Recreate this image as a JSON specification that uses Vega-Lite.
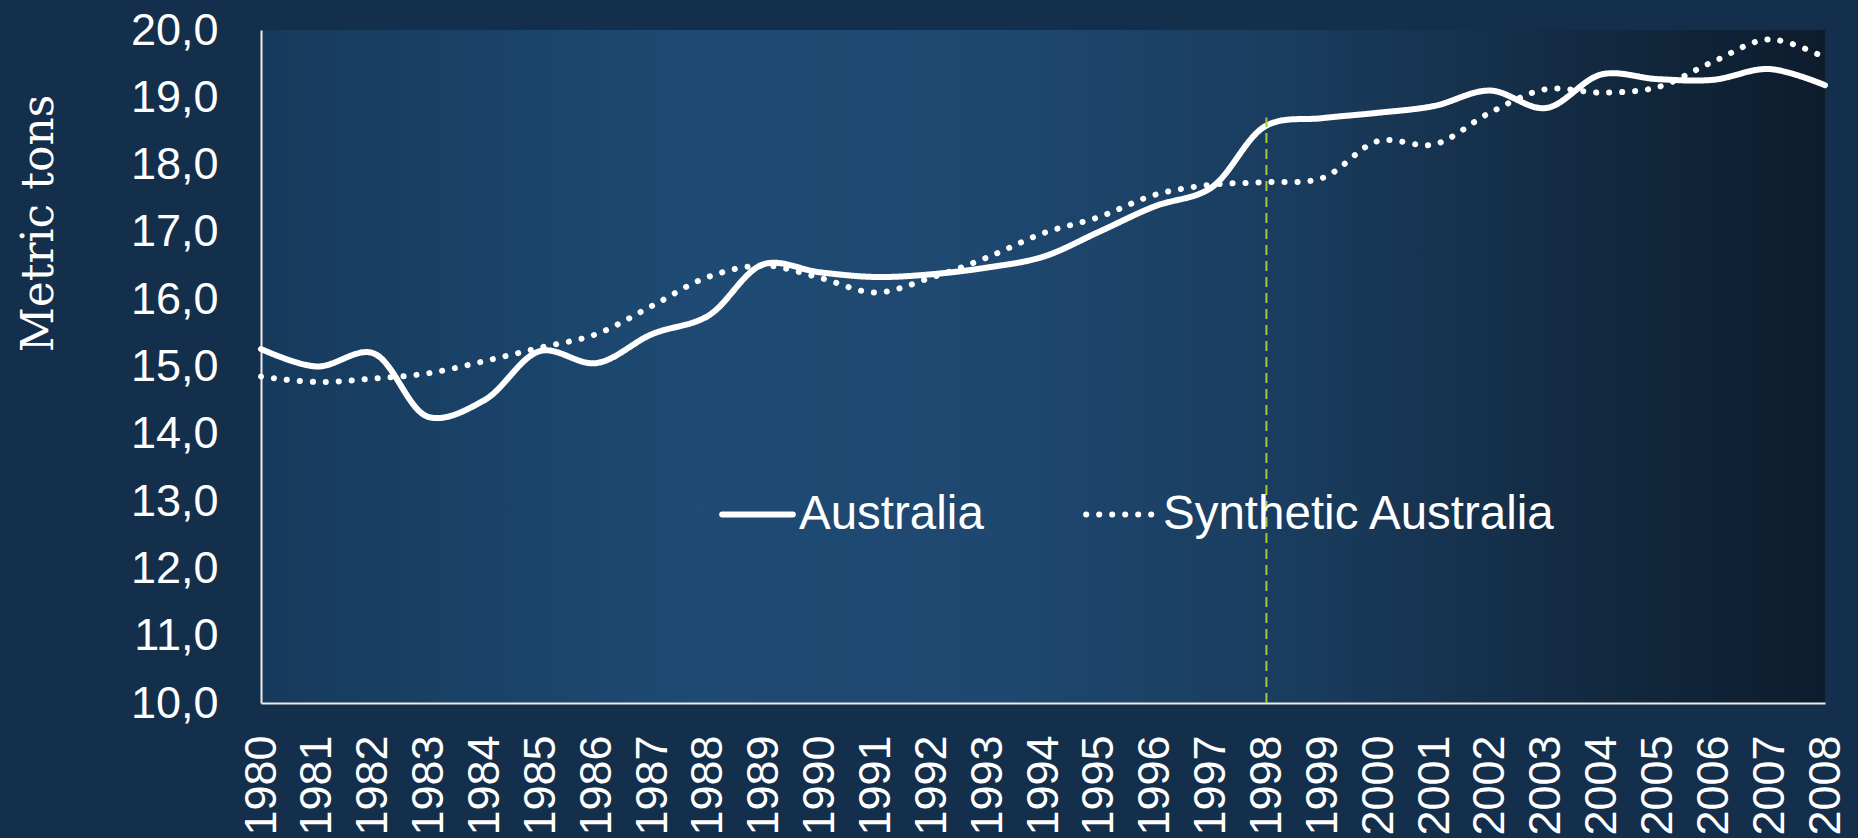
{
  "$schema": "https://vega.github.io/schema/vega-lite/v6.json",
  "width": 1564,
  "height": 673,
  "autosize": {"type": "none"},
  "padding": {"left": 261, "top": 30, "right": 33, "bottom": 135},
  "background": "#142f4b",
  "config": {
    "view": {
      "stroke": null,
      "fill": {
        "gradient": "linear", "x1": 0, "y1": 0, "x2": 1, "y2": 0,
        "stops": [
          {"offset": 0, "color": "#163a5c"},
          {"offset": 0.28, "color": "#1e4a73"},
          {"offset": 0.47, "color": "#1e4870"},
          {"offset": 0.66, "color": "#1a3c5e"},
          {"offset": 0.86, "color": "#12293f"},
          {"offset": 1, "color": "#0d1c2d"}
        ]
      }
    },
    "axis": {
      "grid": false,
      "ticks": false,
      "domainColor": "#ececec",
      "domainWidth": 2,
      "labelFont": "Liberation Sans",
      "labelFontSize": 45,
      "labelColor": "#ffffff",
      "titleColor": "#ffffff"
    }
  },
  "datasets": {
    "series": [
      {"year": 1980, "series": "Australia", "value": 15.26},
      {"year": 1981, "series": "Australia", "value": 15.0},
      {"year": 1982, "series": "Australia", "value": 15.2},
      {"year": 1983, "series": "Australia", "value": 14.25},
      {"year": 1984, "series": "Australia", "value": 14.5},
      {"year": 1985, "series": "Australia", "value": 15.23},
      {"year": 1986, "series": "Australia", "value": 15.05},
      {"year": 1987, "series": "Australia", "value": 15.48},
      {"year": 1988, "series": "Australia", "value": 15.75},
      {"year": 1989, "series": "Australia", "value": 16.52},
      {"year": 1990, "series": "Australia", "value": 16.4},
      {"year": 1991, "series": "Australia", "value": 16.33},
      {"year": 1992, "series": "Australia", "value": 16.37},
      {"year": 1993, "series": "Australia", "value": 16.47},
      {"year": 1994, "series": "Australia", "value": 16.63},
      {"year": 1995, "series": "Australia", "value": 17.0},
      {"year": 1996, "series": "Australia", "value": 17.38},
      {"year": 1997, "series": "Australia", "value": 17.65},
      {"year": 1998, "series": "Australia", "value": 18.58},
      {"year": 1999, "series": "Australia", "value": 18.69},
      {"year": 2000, "series": "Australia", "value": 18.77},
      {"year": 2001, "series": "Australia", "value": 18.87},
      {"year": 2002, "series": "Australia", "value": 19.1},
      {"year": 2003, "series": "Australia", "value": 18.84},
      {"year": 2004, "series": "Australia", "value": 19.34},
      {"year": 2005, "series": "Australia", "value": 19.27},
      {"year": 2006, "series": "Australia", "value": 19.26},
      {"year": 2007, "series": "Australia", "value": 19.42},
      {"year": 2008, "series": "Australia", "value": 19.18},
      {"year": 1980, "series": "Synthetic Australia", "value": 14.85},
      {"year": 1981, "series": "Synthetic Australia", "value": 14.77},
      {"year": 1982, "series": "Synthetic Australia", "value": 14.82},
      {"year": 1983, "series": "Synthetic Australia", "value": 14.9},
      {"year": 1984, "series": "Synthetic Australia", "value": 15.08},
      {"year": 1985, "series": "Synthetic Australia", "value": 15.28},
      {"year": 1986, "series": "Synthetic Australia", "value": 15.48},
      {"year": 1987, "series": "Synthetic Australia", "value": 15.9},
      {"year": 1988, "series": "Synthetic Australia", "value": 16.33},
      {"year": 1989, "series": "Synthetic Australia", "value": 16.5},
      {"year": 1990, "series": "Synthetic Australia", "value": 16.32},
      {"year": 1991, "series": "Synthetic Australia", "value": 16.1},
      {"year": 1992, "series": "Synthetic Australia", "value": 16.32},
      {"year": 1993, "series": "Synthetic Australia", "value": 16.62},
      {"year": 1994, "series": "Synthetic Australia", "value": 16.98},
      {"year": 1995, "series": "Synthetic Australia", "value": 17.22},
      {"year": 1996, "series": "Synthetic Australia", "value": 17.55},
      {"year": 1997, "series": "Synthetic Australia", "value": 17.7},
      {"year": 1998, "series": "Synthetic Australia", "value": 17.74},
      {"year": 1999, "series": "Synthetic Australia", "value": 17.8},
      {"year": 2000, "series": "Synthetic Australia", "value": 18.35},
      {"year": 2001, "series": "Synthetic Australia", "value": 18.3},
      {"year": 2002, "series": "Synthetic Australia", "value": 18.77},
      {"year": 2003, "series": "Synthetic Australia", "value": 19.12},
      {"year": 2004, "series": "Synthetic Australia", "value": 19.07},
      {"year": 2005, "series": "Synthetic Australia", "value": 19.15},
      {"year": 2006, "series": "Synthetic Australia", "value": 19.53},
      {"year": 2007, "series": "Synthetic Australia", "value": 19.86},
      {"year": 2008, "series": "Synthetic Australia", "value": 19.59}
    ],
    "marker": [
      {"year": 1998, "lo": 10, "hi": 18.7}
    ]
  },
  "layer": [
    {
      "data": {"name": "series"},
      "mark": {"type": "line", "color": "#ffffff", "strokeWidth": 6, "strokeCap": "round", "interpolate": "catmull-rom"},
      "encoding": {
        "x": {
          "field": "year", "type": "ordinal",
          "scale": {"type": "point", "padding": 0},
          "axis": {"title": null, "labelAngle": -90, "labelPadding": 32}
        },
        "y": {
          "field": "value", "type": "quantitative",
          "scale": {"domain": [10, 20]},
          "title": "Metric tons",
          "axis": {
            "values": [10, 11, 12, 13, 14, 15, 16, 17, 18, 19, 20],
            "labelExpr": "replace(format(datum.value, '.1f'), '.', ',')",
            "labelPadding": 43,
            "titleFont": "DejaVu Serif",
            "titleFontSize": 44,
            "titleFontWeight": "normal",
            "titleAngle": -90,
            "titleAlign": "center",
            "titleBaseline": "alphabetic",
            "titleX": -209,
            "titleY": 193
          }
        },
        "strokeDash": {
          "field": "series", "type": "nominal",
          "scale": {"domain": ["Australia", "Synthetic Australia"], "range": [[1, 0], [0.1, 12.9]]},
          "legend": {
            "orient": "none",
            "legendX": 458,
            "legendY": 446,
            "direction": "horizontal",
            "title": null,
            "padding": 0,
            "symbolType": "stroke",
            "symbolSize": 5000,
            "symbolStrokeWidth": 6,
            "symbolStrokeColor": "#ffffff",
            "labelFont": "Liberation Sans",
            "labelFontSize": 47.5,
            "labelColor": "#ffffff",
            "labelOffset": 3,
            "labelLimit": 600,
            "columnPadding": 90,
            "encode": {"symbols": {"update": {"strokeCap": {"value": "round"}}}}
          }
        }
      }
    },
    {
      "data": {"name": "marker"},
      "mark": {"type": "rule", "color": "#a6c93a", "strokeWidth": 2, "strokeDash": [10, 6]},
      "encoding": {
        "x": {"field": "year", "type": "ordinal", "title": null},
        "y": {"field": "lo", "type": "quantitative", "title": "Metric tons"},
        "y2": {"field": "hi"}
      }
    }
  ]
}
